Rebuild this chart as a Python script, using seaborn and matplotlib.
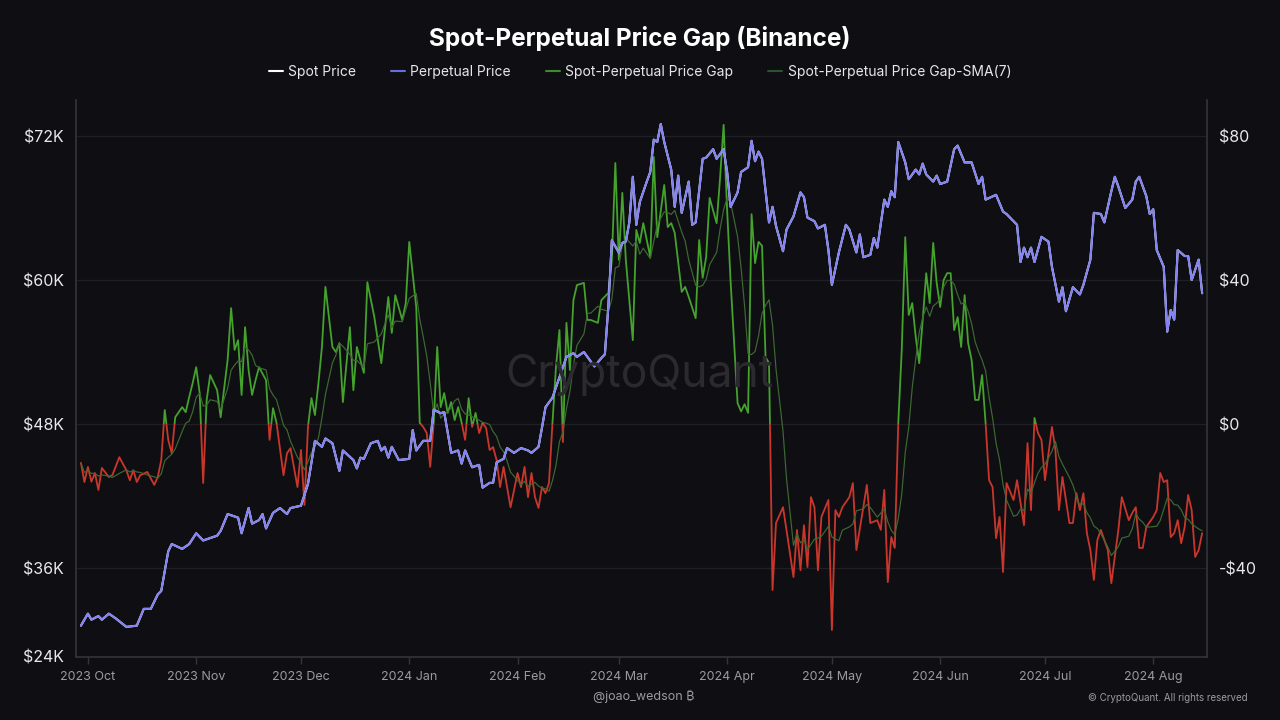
import pandas as pd
import matplotlib
matplotlib.use("Agg")
import matplotlib.pyplot as plt
import matplotlib.dates as mdates
from matplotlib.lines import Line2D
from matplotlib.patches import Rectangle
from matplotlib.ticker import FixedLocator, FixedFormatter, FuncFormatter
import seaborn as sns

# days counted from 2023-10-01
start = pd.Timestamp("2023-10-01")

# perpetual (and spot) price, in $K
price_day = [
    -2, 0, 1, 3, 4, 6, 8, 11, 14, 16, 18, 20, 21, 23, 24, 27, 29, 31, 33, 35,
    37, 38, 40, 43, 44, 46, 47, 49, 50, 51, 53, 55, 57, 58, 61, 63, 65, 67, 68, 70,
    72, 73, 76, 77, 78, 79, 81, 83, 84, 85, 86, 87, 89, 92, 93, 94, 96, 98, 99, 101,
    102, 104, 106, 107, 108, 110, 112, 113, 115, 116, 117, 119, 120, 122, 124, 126, 127, 129, 130, 131,
    133, 135, 137, 139, 140, 142, 143, 145, 147, 148, 149, 150, 152, 153, 154, 155, 156, 157, 158, 160,
    161, 162, 163, 164, 165, 167, 168, 169, 170, 172, 173, 174, 176, 177, 179, 180, 182, 183, 184, 186,
    187, 189, 190, 191, 192, 193, 195, 196, 197, 199, 200, 202, 204, 205, 206, 208, 209, 211, 212, 213,
    215, 217, 218, 220, 221, 222, 224, 225, 226, 228, 229, 230, 231, 232, 234, 235, 237, 238, 239, 240,
    242, 243, 244, 246, 248, 249, 251, 253, 255, 256, 257, 260, 262, 263, 265, 266, 267, 268, 269, 270,
    271, 273, 275, 276, 278, 279, 280, 282, 284, 285, 287, 288, 290, 291, 293, 294, 295, 297, 299, 300,
    301, 303, 304, 305, 306, 308, 309, 310, 311, 312, 314, 315, 316, 318, 319,
]
price_k = [
    31.2, 32.2, 31.7, 32.0, 31.7, 32.2, 31.8, 31.1, 31.2, 32.6, 32.6, 33.8, 34.1, 37.4, 38.0, 37.6, 38.0, 38.9, 38.3, 38.5,
    38.7, 39.1, 40.5, 40.2, 38.9, 41.0, 39.7, 40.0, 40.5, 39.3, 40.6, 41.0, 40.5, 41.0, 41.2, 43.0, 46.6, 46.1, 46.8, 46.4,
    44.1, 45.8, 45.0, 44.3, 45.2, 45.1, 46.4, 46.6, 45.8, 46.1, 45.2, 46.1, 45.0, 45.1, 47.5, 45.8, 46.6, 46.6, 49.2, 48.9,
    49.0, 45.6, 45.8, 44.7, 45.8, 44.4, 44.6, 42.7, 43.1, 43.1, 44.8, 45.1, 46.0, 45.6, 46.0, 45.8, 45.6, 46.1, 47.7, 49.4,
    50.2, 51.9, 53.6, 53.9, 53.6, 54.0, 53.6, 52.8, 53.5, 53.8, 57.8, 63.3, 62.3, 63.1, 63.2, 64.8, 68.6, 64.6, 66.5, 68.2,
    69.0, 71.7, 71.5, 73.0, 71.5, 69.2, 66.1, 68.7, 65.6, 68.2, 64.6, 64.8, 70.1, 70.2, 70.9, 70.1, 70.9, 69.0, 66.1, 67.3,
    69.0, 69.4, 71.6, 69.9, 70.7, 70.1, 64.8, 66.1, 64.5, 62.4, 64.2, 65.3, 67.3, 66.9, 65.2, 64.9, 64.3, 64.6, 62.5, 59.6,
    62.3, 64.6, 64.2, 62.3, 63.8, 61.9, 62.1, 63.5, 62.7, 66.7, 66.1, 67.4, 66.9, 71.5, 69.8, 68.4, 69.2, 68.8, 69.7, 68.8,
    68.2, 68.7, 68.0, 68.2, 70.9, 71.2, 69.8, 69.8, 68.0, 68.6, 66.7, 67.1, 65.7, 65.5, 64.9, 64.6, 61.5, 62.7, 61.9, 62.7,
    61.5, 63.6, 63.2, 61.1, 58.2, 59.4, 57.4, 59.4, 58.8, 59.6, 61.7, 65.6, 65.5, 64.8, 67.4, 68.6, 67.8, 66.0, 66.7, 68.2,
    68.6, 67.0, 65.5, 65.9, 62.5, 61.1, 55.7, 57.5, 56.7, 62.5, 62.0, 62.0, 60.0, 61.7, 58.9,
]

# spot-perpetual price gap, in $
gap_day = [
    -2, -1, 0, 1, 2, 3, 4, 6, 7, 9, 11, 12, 13, 14, 15, 17, 19, 20, 21, 22,
    23, 24, 25, 27, 28, 29, 30, 31, 32, 33, 34, 35, 37, 38, 40, 41, 42, 43, 44, 45,
    46, 47, 48, 49, 51, 52, 53, 54, 56, 57, 58, 60, 61, 62, 63, 64, 65, 66, 67, 68,
    70, 71, 72, 73, 75, 76, 77, 79, 80, 82, 84, 86, 87, 88, 90, 91, 92, 94, 95, 96,
    97, 98, 99, 100, 101, 102, 103, 104, 105, 106, 107, 108, 109, 110, 111, 112, 113, 114, 115, 116,
    117, 118, 119, 120, 121, 123, 124, 125, 126, 127, 128, 129, 130, 131, 132, 133, 134, 135, 136, 137,
    138, 139, 140, 142, 143, 144, 146, 147, 149, 150, 151, 152, 153, 154, 156, 157, 158, 159, 161, 162,
    163, 165, 166, 167, 168, 170, 171, 172, 174, 175, 176, 177, 178, 180, 181, 182, 183, 184, 186, 187,
    188, 189, 190, 191, 192, 193, 194, 195, 196, 197, 199, 200, 202, 203, 204, 205, 206, 207, 208, 209,
    210, 212, 213, 214, 215, 216, 218, 219, 220, 222, 223, 224, 226, 227, 228, 229, 230, 231, 232, 233,
    234, 235, 236, 237, 238, 239, 240, 241, 242, 243, 244, 245, 246, 247, 248, 249, 250, 251, 252, 253,
    254, 255, 256, 257, 258, 259, 260, 261, 262, 263, 265, 266, 267, 268, 269, 270, 271, 272, 273, 274,
    276, 277, 278, 279, 281, 282, 283, 284, 285, 286, 287, 288, 289, 290, 292, 293, 295, 296, 298, 299,
    300, 301, 302, 303, 305, 306, 307, 308, 309, 310, 311, 312, 313, 314, 315, 316, 317, 318, 319,
]
gap_usd = [
    -10.8, -16.1, -11.9, -16.0, -13.6, -18.3, -12.2, -14.7, -14.2, -9.2, -12.8, -15.6, -12.8, -16.1, -14.2, -13.3, -16.9, -14.7, -10.0, 3.9,
    -4.4, -8.1, 1.9, 4.7, 3.3, 7.5, 11.4, 15.8, 8.6, -16.4, 6.7, 13.6, 9.4, 1.9, 17.8, 32.2, 20.6, 23.3, 8.1, 26.9,
    15.0, 8.1, 12.2, 15.8, 12.2, -4.4, 4.4, 0.3, -14.2, -8.1, -6.7, -17.5, -7.2, -22.5, -0.8, 7.2, 2.5, 11.4, 21.4, 38.1,
    21.4, 20.0, 22.5, 6.1, 26.9, 9.4, 21.4, 14.2, 39.4, 29.7, 16.9, 35.3, 25.3, 35.8, 28.9, 33.6, 50.6, 32.5, 0.3, -0.8,
    -2.5, -11.9, 0.3, 21.4, 4.7, 8.6, 3.1, 6.1, 1.1, 4.7, 0.3, -4.4, 7.2, -0.8, 3.1, -2.5, 0.3, -1.1, -7.2, -6.4,
    -10.0, -17.5, -11.9, -17.5, -23.1, -13.6, -17.5, -11.9, -20.3, -13.6, -20.3, -23.3, -17.5, -19.2, -16.4, 0.3, 15.8, 26.1, -5.0, 28.1,
    15.0, 34.4, 38.6, 39.2, 28.9, 28.9, 28.1, 34.4, 36.4, 45.6, 72.5, 45.6, 64.2, 45.6, 23.3, 53.9, 50.3, 55.8, 46.4, 74.2,
    51.9, 66.4, 54.7, 55.8, 53.1, 36.7, 38.1, 35.3, 29.4, 51.1, 40.6, 46.4, 62.8, 55.8, 68.6, 83.1, 59.5, 39.6, 5.8, 3.5,
    5.5, 3.1, 58.3, 44.7, 50.6, 49.5, 18.6, 16.9, -46.1, -27.5, -23.1, -29.4, -42.5, -29.4, -40.6, -28.1, -39.7, -20.3, -23.1, -40.6,
    -25.8, -21.1, -57.2, -23.9, -25.8, -23.1, -20.3, -16.4, -35.0, -23.1, -16.9, -27.5, -26.7, -29.4, -18.3, -43.9, -31.4, -34.4, 0.3, 20.7,
    51.9, 30.3, 33.6, 24.2, 16.9, 28.9, 41.9, 33.6, 50.3, 39.2, 32.5, 40.0, 41.9, 41.9, 26.1, 29.7, 21.4, 35.8, 22.5, 17.8,
    6.7, 6.7, 13.6, 0.3, -15.6, -17.5, -31.7, -25.8, -41.1, -16.4, -21.1, -15.6, -21.9, -28.1, -5.3, -23.9, 1.7, -2.5, -4.4, -15.6,
    -0.8, -7.2, -23.9, -14.7, -27.5, -27.5, -19.2, -23.9, -19.2, -30.3, -35.0, -43.3, -32.2, -29.4, -35.0, -44.2, -29.5, -20.3, -26.7, -24.7,
    -23.1, -34.4, -34.4, -28.6, -25.8, -23.9, -13.6, -16.1, -15.6, -31.4, -30.3, -26.7, -33.1, -28.6, -19.7, -23.9, -36.9, -35.0, -30.3,
]

left_ticks = [36, 48, 60, 72]
left_labels = ["$36K", "$48K", "$60K", "$72K"]
right_ticks = [-40, 0, 40, 80]

price = pd.DataFrame({"date": start + pd.to_timedelta(price_day, unit="D"), "price": price_k})
gap = pd.DataFrame({"date": start + pd.to_timedelta(gap_day, unit="D"), "gap": gap_usd})
gap["sma7"] = gap.set_index("date")["gap"].rolling("7D").mean().values

BG = "#0f0f13"
TXT = "#e8e8ea"
GRAY = "#9a9aa2"
SPINE = "#34343b"
BLUE = "#8282f2"
GREEN = "#44a22d"
RED = "#c9372c"
SMA = "#3d6a32"

sns.set_theme(style="dark")
plt.rcParams["font.family"] = ["Inter", "Noto Sans", "DejaVu Sans"]

fig = plt.figure(figsize=(12.8, 7.2), dpi=100, facecolor=BG)
ax = fig.add_axes([0.0594, 0.0875, 0.8836, 0.7736])
ax.set_facecolor(BG)
ax2 = ax.twinx()
ax.yaxis.tick_right()
ax2.yaxis.tick_left()
ax2.yaxis.set_label_position("left")

# gap on the right axis, green above zero and red below
sns.lineplot(data=gap, x="date", y="gap", ax=ax, color=GREEN, linewidth=1.3)
ax.lines[-1].set_clip_path(Rectangle((-1e6, 0), 2e6, 1e4, transform=ax.transData))
sns.lineplot(data=gap, x="date", y="gap", ax=ax, color=RED, linewidth=1.3)
ax.lines[-1].set_clip_path(Rectangle((-1e6, -1e4), 2e6, 1e4, transform=ax.transData))
sns.lineplot(data=gap, x="date", y="sma7", ax=ax, color=SMA, linewidth=0.85)

# prices on the left axis
sns.lineplot(data=price, x="date", y="price", ax=ax2, color="white", linewidth=1.5)
sns.lineplot(data=price, x="date", y="price", ax=ax2, color=BLUE, linewidth=1.5)

gap_lo, gap_hi = -64.7, 90.0
ax.set_ylim(gap_lo, gap_hi)
ax2.set_ylim(48 + 0.3 * gap_lo, 48 + 0.3 * gap_hi)
ax.set_xlim(start - pd.Timedelta(days=3.4), start + pd.Timedelta(days=320.4))

ax.yaxis.set_major_locator(FixedLocator(right_ticks))
ax.yaxis.set_major_formatter(FuncFormatter(lambda v, p: f"-${abs(v):.0f}" if v < 0 else f"${v:.0f}"))
bottom = 48 + 0.3 * gap_lo
ax2.yaxis.set_major_locator(FixedLocator([bottom] + left_ticks))
ax2.yaxis.set_major_formatter(FixedFormatter(["$24K"] + left_labels))

ax.xaxis.set_major_locator(mdates.MonthLocator())
ax.xaxis.set_major_formatter(mdates.DateFormatter("%Y %b"))

ax.grid(False)
ax2.grid(False)
ax.yaxis.grid(True, color="#1f1f25", linewidth=0.9)

for a in (ax, ax2):
    a.set_xlabel("")
    a.set_ylabel("")
for s in ax2.spines.values():
    s.set_visible(False)
ax.spines["top"].set_visible(False)
for k in ("left", "right", "bottom"):
    ax.spines[k].set_color(SPINE)
    ax.spines[k].set_linewidth(1.2)

ax.tick_params(axis="y", right=True, left=False, length=0, pad=8.5, labelsize=11.5, labelcolor=TXT)
ax2.tick_params(axis="y", length=0, pad=9, labelsize=11.5, labelcolor=TXT)
ax.tick_params(axis="x", bottom=True, length=5, width=1, color=SPINE, pad=5, labelsize=9, labelcolor=GRAY)

fig.text(0.5, 0.947, "Spot-Perpetual Price Gap (Binance)", ha="center", va="center",
         fontsize=17.5, fontweight="bold", color="white")

handles = [
    Line2D([], [], color="white", lw=1.5),
    Line2D([], [], color="#6c6cd6", lw=1.5),
    Line2D([], [], color="#3d8c2b", lw=1.5),
    Line2D([], [], color="#2c5230", lw=1.5),
]
labels = ["Spot Price", "Perpetual Price", "Spot-Perpetual Price Gap", "Spot-Perpetual Price Gap-SMA(7)"]
fig.legend(handles, labels, loc="center", bbox_to_anchor=(0.5, 0.9), ncol=4, frameon=False,
           handlelength=1.0, handletextpad=0.4, columnspacing=2.5, fontsize=10, labelcolor=TXT)

fig.text(0.5, 0.479, "CryptoQuant", ha="center", va="center", fontsize=32, color="#2a2a2f", zorder=0)
fig.text(0.503, 0.033, "@joao_wedson \u20bf", ha="center", va="center", fontsize=9, color=GRAY)
fig.text(0.975, 0.03, "\u00a9 CryptoQuant. All rights reserved", ha="right", va="center", fontsize=7, color=GRAY)

fig.savefig("out.png", dpi=100, facecolor=BG)
